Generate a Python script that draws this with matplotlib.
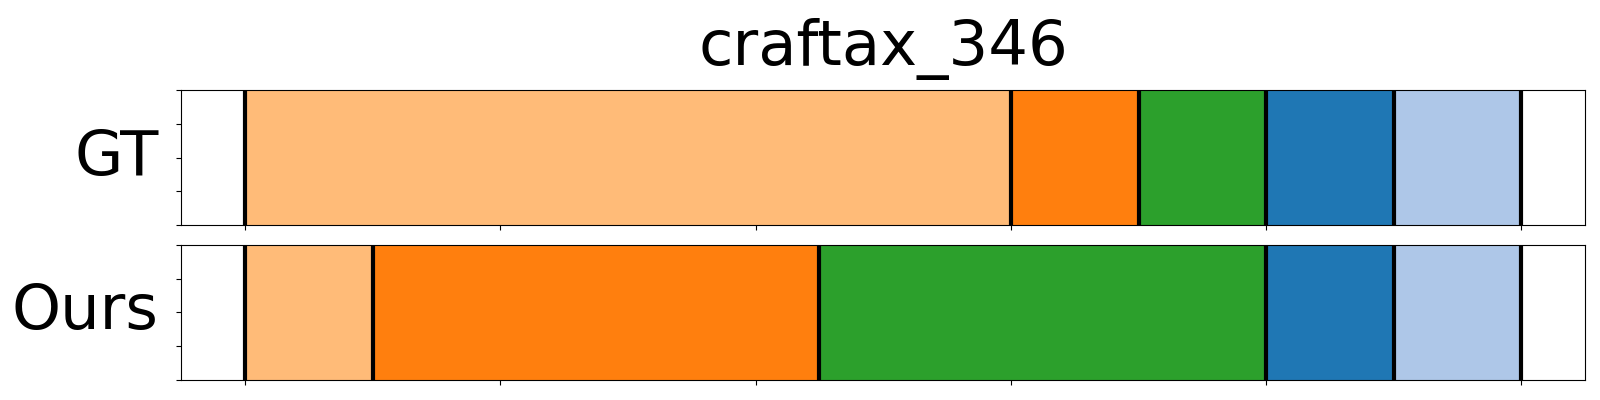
import matplotlib
matplotlib.use("Agg")
import matplotlib.pyplot as plt
import numpy as np

title = "craftax_346"
row_names = ["GT", "Ours"]
# segment boundaries (frames) and colours of each segment
gt_bounds = [0, 60, 70, 80, 90, 100]
ours_bounds = [0, 10, 45, 80, 90, 100]
seg_colors = ["#ffbb78", "#ff7f0e", "#2ca02c", "#1f77b4", "#aec7e8"]

fig, axes = plt.subplots(2, 1, figsize=(16, 4), dpi=100)
plt.subplots_adjust(left=0.1133, right=0.9908, top=0.775, bottom=0.05, hspace=0.148)

for ax, name, bounds in zip(axes, row_names, [gt_bounds, ours_bounds]):
    starts = bounds[:-1]
    widths = np.diff(bounds)
    ax.barh(0.5, widths, left=starts, height=1, color=seg_colors, edgecolor="none")
    for b in bounds:
        ax.axvline(b, color="black", lw=3)
    ax.set_xlim(-5, 105)
    ax.set_ylim(0, 1)
    ax.set_xticks(np.arange(0, 101, 20))
    ax.set_xticklabels([])
    ax.set_yticks(np.linspace(0, 1, 5))
    ax.set_yticklabels([])
    ax.text(-0.016, 0.5, name, transform=ax.transAxes, ha="right", va="center", fontsize=45)

axes[0].set_title(title, fontsize=45, pad=18)
plt.savefig("out.png")
